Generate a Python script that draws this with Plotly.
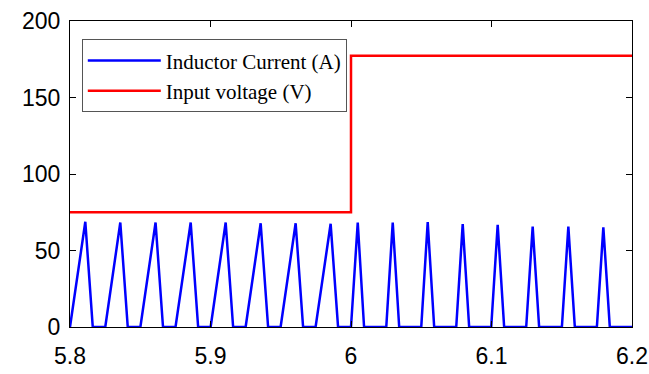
import plotly.graph_objects as go

# Inductor current waveform vertices (time in s, current in A)
current_t = [
    5.8000, 5.8109, 5.8162,
    5.8251, 5.8358, 5.8411,
    5.8501, 5.8609, 5.8662,
    5.8751, 5.8859, 5.8912,
    5.9001, 5.9108, 5.9161,
    5.9250, 5.9357, 5.9410,
    5.9499, 5.9606, 5.9659,
    5.9748, 5.9855, 5.9908,
    6.0000, 6.0048, 6.0093,
    6.0251, 6.0297, 6.0343,
    6.0500, 6.0546, 6.0592,
    6.0749, 6.0795, 6.0841,
    6.0998, 6.1044, 6.1090,
    6.1247, 6.1293, 6.1339,
    6.1501, 6.1547, 6.1593,
    6.1750, 6.1796, 6.1842,
    6.2000,
]
current_a = [
    0, 68.8, 0,
    0, 68.3, 0,
    0, 68.3, 0,
    0, 68.3, 0,
    0, 68.3, 0,
    0, 67.8, 0,
    0, 67.8, 0,
    0, 67.5, 0,
    0, 68.3, 0,
    0, 68.3, 0,
    0, 68.5, 0,
    0, 67.2, 0,
    0, 66.8, 0,
    0, 65.6, 0,
    0, 65.6, 0,
    0, 65.2, 0,
    0,
]

# Input voltage step (time in s, voltage in V)
voltage_t = [5.8, 6.0, 6.2]
voltage_v = [75, 177.3, 177.3]

x_ticks = [5.8, 5.9, 6.0, 6.1, 6.2]
x_tick_labels = ["5.8", "5.9", "6", "6.1", "6.2"]
y_ticks = [0, 50, 100, 150, 200]

fig = go.Figure()
fig.add_trace(go.Scatter(
    x=current_t, y=current_a, mode="lines", name="Inductor Current (A)",
    line=dict(color="#0000FF", width=2.5), cliponaxis=False,
))
fig.add_trace(go.Scatter(
    x=voltage_t, y=voltage_v, mode="lines", name="Input voltage (V)",
    line=dict(color="#FF0000", width=2.5, shape="hv"), cliponaxis=False,
))

axis_common = dict(
    showgrid=False, zeroline=False, showline=True, linecolor="black",
    linewidth=1, mirror="ticks", ticks="inside", ticklen=6,
    tickcolor="black", tickwidth=1, automargin=False,
    tickfont=dict(family="Liberation Sans, Arial, sans-serif", size=23, color="black"),
)
fig.update_xaxes(range=[5.8, 6.2], tickvals=x_ticks, ticktext=x_tick_labels,
                 ticklabelstandoff=8, **axis_common)
fig.update_yaxes(range=[0, 200], tickvals=y_ticks, ticklabelstandoff=4, **axis_common)

fig.update_layout(
    width=649, height=374,
    margin=dict(l=70, r=17, t=21, b=47, autoexpand=False),
    paper_bgcolor="white", plot_bgcolor="white",
    showlegend=True,
    legend=dict(
        x=0.021, y=0.94, xanchor="left", yanchor="top",
        bgcolor="white", bordercolor="#555555", borderwidth=1,
        font=dict(family="Liberation Serif, Times New Roman, serif", size=21, color="black"),
        itemwidth=73, tracegroupgap=0,
    ),
)

fig.write_html("out.html")
